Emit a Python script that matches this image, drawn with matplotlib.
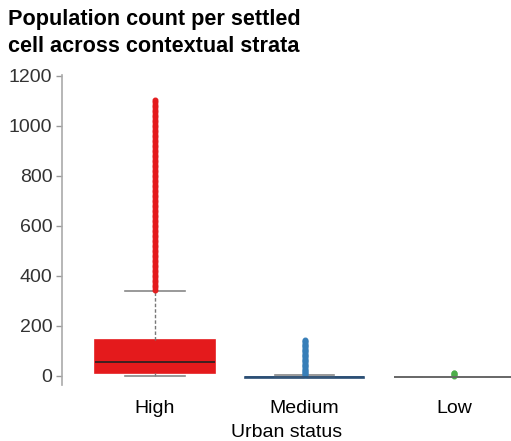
import matplotlib
matplotlib.use("Agg")
import matplotlib.pyplot as plt

categories = ["High", "Medium", "Low"]
colors = ["#E41A1C", "#377EB8", "#4DAF4A"]
q1 = [13, -6, -4]
median = [55, -4, -3]
q3 = [144, -3, -2]
whislo = [0, -5, -3]
whishi = [340, 4, -3]
fliers_high = [345, 355, 365, 375, 385, 395, 405, 415, 425, 435, 445, 455, 465,
               475, 485, 495, 505, 515, 525, 535, 545, 555, 565, 575, 585, 595,
               605, 615, 625, 635, 645, 655, 665, 675, 685, 695, 705, 715, 725,
               735, 745, 755, 765, 775, 785, 795, 805, 815, 825, 835, 845, 855,
               865, 875, 885, 895, 905, 915, 925, 935, 945, 955, 965, 975, 985,
               995, 1005, 1015, 1025, 1035, 1045, 1055, 1065, 1075, 1085, 1095, 1105]
fliers_medium = [6, 10, 14, 18, 22, 26, 30, 35, 40, 45, 50, 55, 60, 65, 70, 75,
                 80, 85, 90, 95, 100, 105, 110, 115, 120, 125, 130, 135, 140, 143]
fliers_low = [2, 5, 8, 11, 13]
yticks = [0, 200, 400, 600, 800, 1000, 1200]

fig = plt.figure(figsize=(5.11, 4.41), dpi=100)
ax = fig.add_axes([62/511, 1-385/441, 1-62/511, 310/441])

fl = [fliers_high, fliers_medium, fliers_low]
stats = []
for i, c in enumerate(categories):
    stats.append(dict(label=c, q1=q1[i], med=median[i], q3=q3[i],
                      whislo=whislo[i], whishi=whishi[i], fliers=fl[i]))

box_edges = ["#E41A1C", "#2b4f75", "#666666"]
for i, s in enumerate(stats):
    ax.bxp([s], positions=[i], widths=0.8, patch_artist=True,
           showfliers=True,
           boxprops=dict(facecolor=colors[i], edgecolor=box_edges[i], linewidth=1.2),
           medianprops=dict(color="#222222" if i == 0 else box_edges[i], linewidth=1.2),
           whiskerprops=dict(color="#777777", linewidth=1, linestyle=(0, (2.5, 1.5))),
           capprops=dict(color="#888888", linewidth=1.2),
           capwidths=0.4,
           flierprops=dict(marker="o", markerfacecolor=colors[i],
                           markeredgecolor=colors[i], markersize=3.3, alpha=0.95))

ax.set_xlim(-0.622, 2.381)
ax.set_ylim(-36, 1204)
ax.set_yticks(yticks)
ax.set_yticklabels([str(v) for v in yticks], fontsize=14, color="#333333",
                   family="Liberation Sans")
ax.set_xticks([0, 1, 2])
ax.set_xticklabels(categories, fontsize=14, color="#000000", family="Liberation Sans")
ax.tick_params(axis="x", length=0, pad=11)
ax.tick_params(axis="y", length=4, color="#999999", width=1, pad=3)
ax.set_xlabel("Urban status", fontsize=14, family="Liberation Sans", labelpad=5,
              color="#000000")
for s in ["top", "right", "bottom"]:
    ax.spines[s].set_visible(False)
ax.spines["left"].set_color("#aaaaaa")
ax.spines["left"].set_linewidth(1.2)

fig.text(8/511, 1-9/441, "Population count per settled\ncell across contextual strata",
         fontsize=15.6, fontweight="bold", family="Liberation Sans",
         ha="left", va="top", linespacing=1.35)

fig.savefig("out.png", dpi=100)
